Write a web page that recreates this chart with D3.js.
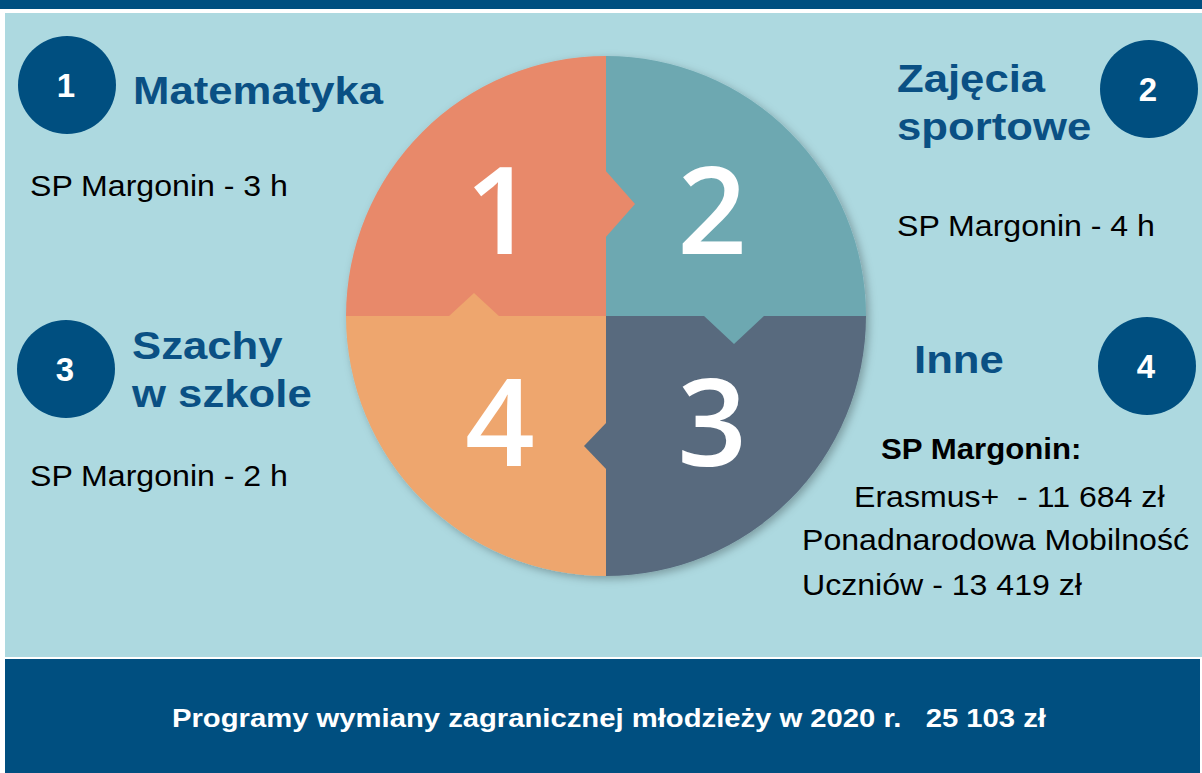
<!DOCTYPE html>
<html>
<head>
<meta charset="utf-8">
<script src="https://cdn.jsdelivr.net/npm/d3@7"></script>
<style>
  html, body { margin: 0; padding: 0; background: #ffffff; }
  svg { display: block; }
</style>
</head>
<body>
<svg id="chart" width="1202" height="773"></svg>
<script>
// ---- data ----
const categories = ["1", "2", "3", "4"];
const sliceValues = [1, 1, 1, 1];
const badgeNumbers = ["1", "2", "3", "4"];
const titles = [["Matematyka"], ["Zajęcia", "sportowe"], ["Szachy", "w szkole"], ["Inne"]];
const descriptions = [
  ["SP Margonin - 3 h"],
  ["SP Margonin - 4 h"],
  ["SP Margonin - 2 h"]
];
const otherHeading = "SP Margonin:";
const otherLines = ["Erasmus+  - 11 684 zł", "Ponadnarodowa Mobilność", "Uczniów - 13 419 zł"];
const footerText = "Programy wymiany zagranicznej młodzieży w 2020 r.   25 103 zł";

// ---- styles ----
const W = 1202, H = 773;
const darkBlue = "#004F80";
const bgBlue = "#ADD9E0";
const sliceColors = ["#E8896A", "#6DA8B1", "#586B7E", "#EEA66E"];
const titleColor = "#0A5084";
const font = "'Liberation Sans', Arial, Helvetica, sans-serif";

const svg = d3.select("#chart");

function addText(x, y, str, opts) {
  const t = svg.append("text")
    .attr("transform", `translate(${x},${y}) scale(${opts.sx || 1},1)`)
    .attr("fill", opts.fill || "#000")
    .style("white-space", "pre")
    .style("font-family", opts.family || font)
    .style("font-weight", opts.weight || "normal")
    .style("font-size", opts.size + "px")
    .text(str);
  if (opts.anchor) t.attr("text-anchor", opts.anchor);
  return t;
}

// background
svg.append("rect").attr("x", 0).attr("y", 0).attr("width", W).attr("height", H).attr("fill", "#ffffff");
svg.append("rect").attr("x", 0).attr("y", 0).attr("width", W).attr("height", 9).attr("fill", darkBlue);
svg.append("rect").attr("x", 5).attr("y", 13).attr("width", W - 5).attr("height", 644).attr("fill", bgBlue);
svg.append("rect").attr("x", 5).attr("y", 659).attr("width", 1195).attr("height", H - 659).attr("fill", darkBlue);

// drop shadow
const defs = svg.append("defs");
const f = defs.append("filter").attr("id", "shadow").attr("x", "-20%").attr("y", "-20%").attr("width", "140%").attr("height", "140%");
f.append("feDropShadow").attr("dx", 3).attr("dy", 3).attr("stdDeviation", 4)
  .attr("flood-color", "#000").attr("flood-opacity", 0.28);

// ---- pie ----
const cx = 606, cy = 316, R = 260;
const pie = d3.pie().sort(null).value(d => d)
  .startAngle(-Math.PI / 2).endAngle(3 * Math.PI / 2);
const arcs = pie(sliceValues);
const arc = d3.arc().innerRadius(0).outerRadius(R);

const g = svg.append("g").attr("transform", `translate(${cx},${cy})`);
const pieG = g.append("g").attr("filter", "url(#shadow)");

pieG.selectAll("path.slice").data(arcs).join("path")
  .attr("class", "slice")
  .attr("d", arc)
  .attr("fill", (d, i) => sliceColors[i]);

// puzzle tabs: each slice pokes a tab across its clockwise edge
const tabGeom = [
  { r: 112, half: 34, depth: 29 },
  { r: 128, half: 31, depth: 28 },
  { r: 130, half: 24, depth: 22 },
  { r: 132, half: 26, depth: 23 }
];
pieG.selectAll("path.tab").data(arcs).join("path")
  .attr("class", "tab")
  .attr("fill", (d, i) => sliceColors[i])
  .attr("d", (d, i) => {
    const a = d.endAngle;            // d3 angle: 0 = up, clockwise
    const ux = Math.sin(a), uy = -Math.cos(a);   // along edge
    const nx = Math.cos(a), ny = Math.sin(a);    // clockwise normal
    const t = tabGeom[i];
    const p1 = [ux * (t.r - t.half) - nx * 1, uy * (t.r - t.half) - ny * 1];
    const p2 = [ux * t.r + nx * t.depth, uy * t.r + ny * t.depth];
    const p3 = [ux * (t.r + t.half) - nx * 1, uy * (t.r + t.half) - ny * 1];
    return d3.line()([p1, p2, p3]) + "Z";
  });

// big numbers
const bigSize = 122;
const labelArc = d3.arc().innerRadius(150).outerRadius(150);
g.selectAll("text.big").data(arcs).join("text")
  .attr("class", "big")
  .attr("x", d => labelArc.centroid(d)[0])
  .attr("y", d => labelArc.centroid(d)[1] + bigSize * 0.36)
  .attr("text-anchor", "middle")
  .attr("fill", "#ffffff")
  .style("font-family", "'Open Sans', sans-serif")
  .style("font-weight", 600)
  .style("font-size", bigSize + "px")
  .text((d, i) => categories[i]);

// ---- badges ----
const badgePos = [[67, 85], [1149, 89], [66, 369], [1147, 366]];
badgeNumbers.forEach((n, i) => {
  svg.append("circle").attr("cx", badgePos[i][0]).attr("cy", badgePos[i][1]).attr("r", 49).attr("fill", darkBlue);
  addText(badgePos[i][0] - 1, badgePos[i][1] + 12, n, { fill: "#fff", weight: "bold", size: 33, anchor: "middle" });
});

// ---- titles ----
const titlePos = [[133, 104], [897, 92], [132, 359], [914, 373]];
const titleLeading = 48;
titles.forEach((lines, i) => {
  lines.forEach((ln, j) => {
    addText(titlePos[i][0], titlePos[i][1] + j * titleLeading, ln,
      { fill: titleColor, weight: "bold", size: 38, sx: 1.15 });
  });
});

// ---- descriptions ----
const descPos = [[30, 196], [897, 236], [30, 486]];
descriptions.forEach((lines, i) => {
  lines.forEach((ln, j) => {
    addText(descPos[i][0], descPos[i][1] + j * 34, ln, { size: 30, sx: 1.07 });
  });
});

addText(881, 459, otherHeading, { weight: "bold", size: 30, sx: 1.04 });
const otherX = [854, 802, 802], otherY = [507, 550, 595];
otherLines.forEach((ln, j) => {
  addText(otherX[j], otherY[j], ln, { size: 30, sx: 1.07 });
});

// ---- footer ----
addText(172, 727, footerText, { fill: "#fff", weight: "bold", size: 25, sx: 1.17 });
</script>
</body>
</html>
